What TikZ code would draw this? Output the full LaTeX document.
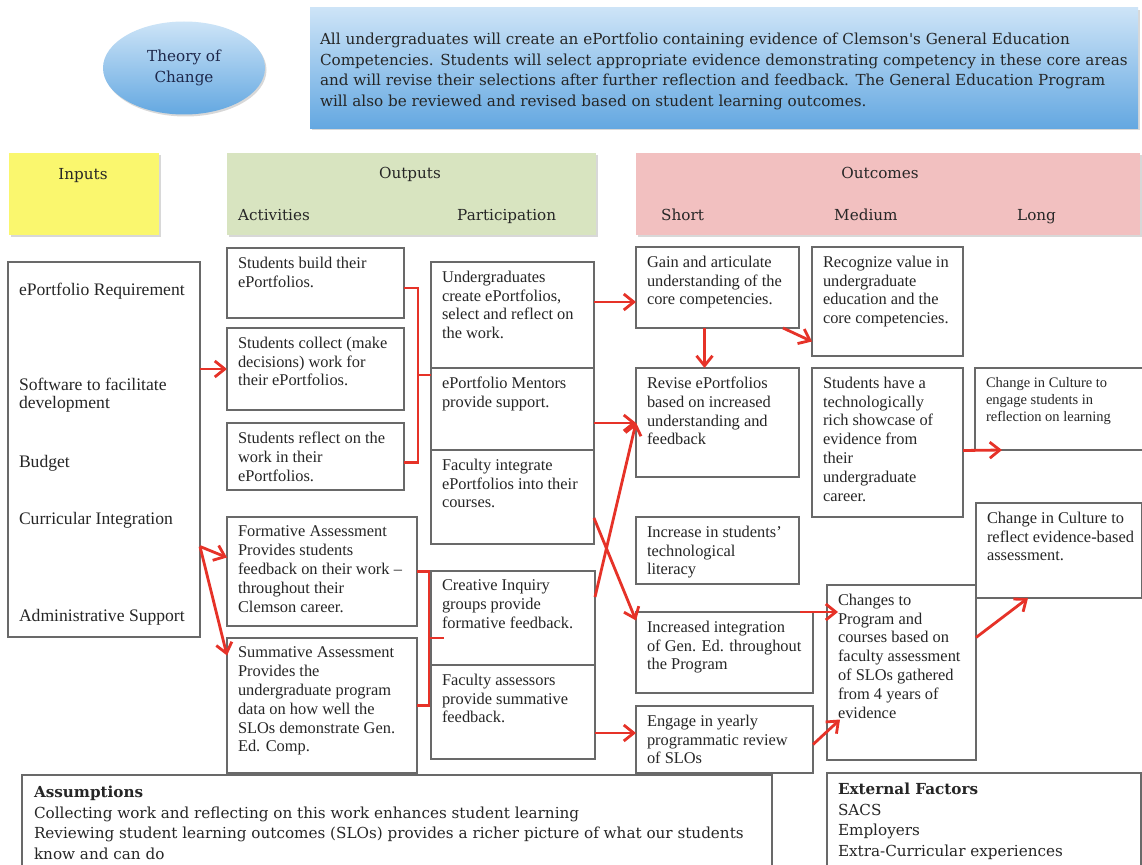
\documentclass[tikz,border=0pt]{standalone}
\usepackage{fontspec}
\setmainfont{Liberation Serif}
\newfontfamily\camfont{DejaVu Serif}
\usepackage{tikz}
\usetikzlibrary{arrows.meta,shapes,shadows}

\definecolor{boxgray}{RGB}{105,105,105}
\definecolor{arrred}{RGB}{230,50,40}
\definecolor{inyellow}{RGB}{250,247,110}
\definecolor{outgreen}{RGB}{216,228,192}
\definecolor{outcpink}{RGB}{242,192,192}
\definecolor{bluehi}{RGB}{205,228,247}
\definecolor{bluelo}{RGB}{100,168,225}
\definecolor{navytext}{RGB}{30,40,75}

\newcommand{\boxfont}{\fontsize{16.4}{18.8}\selectfont}
\newcommand{\smallboxfont}{\fontsize{14.5}{17}\selectfont}
\newcommand{\inputfont}{\fontsize{17.6}{18.8}\selectfont}
\newcommand{\headfont}{\camfont\fontsize{15.2}{20.5}\selectfont}
\newcommand{\cell}[3]{\parbox[c][#2pt][t]{#1pt}{\raggedright\leftskip=11pt\vspace*{9pt}#3}}

\begin{document}
\begin{tikzpicture}[x=1pt,y=-1pt]
  \tikzstyle{box}=[draw=boxgray, line width=1.2pt, inner sep=0pt, outer sep=0pt, anchor=north west, font=\boxfont, text=black!85]
  \tikzstyle{head}=[box, draw=none, drop shadow={shadow xshift=1.5pt, shadow yshift=-2pt, opacity=.3}]
  \tikzstyle{htxt}=[font=\headfont, inner sep=0pt, anchor=base, text=black!85]
  \tikzstyle{arr}=[draw=arrred, line width=2.8pt, -{Straight Barb[length=10pt,width=16pt]}]
  \tikzstyle{brk}=[draw=arrred, line width=2.6pt]

  \useasboundingbox (0,0) rectangle (1142,864);
  \clip (0,0) rectangle (1142,864);
  \fill[white] (0,0) rectangle (1142,864);

  % header
  \node[ellipse, minimum width=162pt, minimum height=93pt, top color=bluehi, bottom color=bluelo,
        drop shadow={shadow xshift=1.5pt, shadow yshift=-2pt, opacity=.3},
        font=\headfont, text=navytext, align=center, inner sep=0pt] (theory) at (184,68) {Theory of\\Change};
  \node[head, top color=bluehi, bottom color=bluelo, font=\headfont] (vision) at (310,8)
    {\parbox[c][120pt][t]{828pt}{\leftskip=10pt\vspace*{25pt}%
     All undergraduates will create an ePortfolio containing evidence of Clemson's General Education\\
     Competencies. Students will select appropriate evidence demonstrating competency in these core areas\\
     and will revise their selections after further reflection and feedback. The General Education Program\\
     will also be reviewed and revised based on student learning outcomes.}};

  \node[head, fill=inyellow, minimum width=150pt, minimum height=82pt] (inputshead) at (9,153) {};
  \node[head, fill=outgreen, minimum width=369pt, minimum height=82pt] (outputshead) at (227,153) {};
  \node[head, fill=outcpink, minimum width=504pt, minimum height=82pt] (outcomeshead) at (636,153) {};
  \node[htxt] (inputslbl) at (83,179) {Inputs};
  \node[htxt] (outputslbl) at (410,178) {Outputs};
  \node[htxt, anchor=base west] (actlbl) at (238,220) {Activities};
  \node[htxt, anchor=base west] (partlbl) at (457,220) {Participation};
  \node[htxt] (outcomeslbl) at (880,178) {Outcomes};
  \node[htxt, anchor=base west] (shortlbl) at (661,220) {Short};
  \node[htxt, anchor=base west] (mediumlbl) at (834,220) {Medium};
  \node[htxt, anchor=base west] (longlbl) at (1017,220) {Long};

  % inputs
  \node[box, font=\inputfont] (resources) at (8,262) {\cell{192}{375}{\vspace*{12pt}ePortfolio Requirement\\[76pt]Software to facilitate\\development\\[40pt]Budget\\[38pt]Curricular Integration\\[78pt]Administrative Support}};

  % activities
  \node[box] (build) at (227,248) {\cell{177}{70}{Students build their\\ePortfolios.}};
  \node[box] (collect) at (227,328) {\cell{177}{82}{Students collect (make\\decisions) work for\\their ePortfolios.}};
  \node[box] (reflect) at (227,423) {\cell{177}{67}{Students reflect on the\\work in their\\ePortfolios.}};
  \node[box] (formative) at (227,517) {\cell{190}{109}{Formative Assessment\\Provides students\\feedback on their work --\\throughout their\\Clemson career.}};
  \node[box] (summative) at (227,638) {\cell{190}{135}{Summative Assessment\\Provides the\\undergraduate program\\data on how well the\\SLOs demonstrate Gen.\\Ed. Comp.}};

  % participation
  \node[box] (undergrads) at (431,262) {\cell{163}{106}{Undergraduates\\create ePortfolios,\\select and reflect on\\the work.}};
  \node[box] (mentors) at (431,368) {\cell{163}{82}{ePortfolio Mentors\\provide support.}};
  \node[box] (faculty) at (431,450) {\cell{163}{94}{Faculty integrate\\ePortfolios into their\\courses.}};
  \node[box] (inquiry) at (431,571) {\cell{164}{94}{Creative Inquiry\\groups provide\\formative feedback.}};
  \node[box] (assessors) at (431,665) {\cell{164}{94}{Faculty assessors\\provide summative\\feedback.}};

  % short
  \node[box] (gain) at (636,247) {\cell{163}{81}{Gain and articulate\\understanding of the\\core competencies.}};
  \node[box] (revise) at (636,368) {\cell{163}{109}{Revise ePortfolios\\based on increased\\understanding and\\feedback}};
  \node[box] (literacy) at (636,517) {\cell{163}{67}{Increase in students'\\technological\\literacy}};
  \node[box] (integration) at (636,612) {\cell{177}{81}{Increased integration\\of Gen. Ed. throughout\\the Program}};
  \node[box] (review) at (636,706) {\cell{177}{67}{Engage in yearly\\programmatic review\\of SLOs}};

  % medium
  \node[box] (recognize) at (812,247) {\cell{151}{109}{Recognize value in\\undergraduate\\education and the\\core competencies.}};
  \node[box] (showcase) at (812,368) {\cell{151}{149}{Students have a\\technologically\\rich showcase of\\evidence from\\their\\undergraduate\\career.}};
  \node[box] (changes) at (827,585) {\cell{149}{175}{Changes to\\Program and\\courses based on\\faculty assessment\\of SLOs gathered\\from 4 years of\\evidence}};

  % long
  \node[box, font=\smallboxfont] (culture) at (975,368) {\cell{168}{82}{Change in Culture to\\engage students in\\reflection on learning}};
  \node[box] (evidence) at (976,503) {\cell{166}{95}{Change in Culture to\\reflect evidence-based\\assessment.}};

  % assumptions and external factors
  \node[box, font=\headfont] (assumptions) at (22,775) {\parbox[c][100pt][t]{750pt}{\leftskip=12pt\vspace*{11pt}\textbf{Assumptions}\\Collecting work and reflecting on this work enhances student learning\\Reviewing student learning outcomes (SLOs) provides a richer picture of what our students\\know and can do}};
  \node[box, font=\headfont] (external) at (827,773) {\parbox[c][100pt][t]{314pt}{\leftskip=11pt\vspace*{10pt}\textbf{External Factors}\\SACS\\Employers\\Extra-Curricular experiences}};

  % brackets
  \draw[brk] ([yshift=-5pt]build.east) -| ([xshift=14pt,yshift=-6pt]reflect.east) -- ([yshift=-6pt]reflect.east);
  \draw[brk] ([shift={(-13pt,-7pt)}]mentors.north west) -- ([yshift=-7pt]mentors.north west);
  \draw[brk] (formative.east) -| ([xshift=12pt]summative.east) -- (summative.east);
  \draw[brk] ([shift={(-2pt,-20pt)}]inquiry.west) -- ([shift={(13pt,-20pt)}]inquiry.west);

  % arrows
  \coordinate (fork) at ([yshift=-97pt]resources.east);
  \draw[arr] (resources.east |- collect.west) -- (collect.west);
  \draw[arr] (fork) -- ([yshift=14pt]formative.west);
  \draw[arr] (fork) -- ([yshift=50pt]summative.west);
  \draw[arr] ([yshift=13pt]undergrads.east) -- ([yshift=13pt]undergrads.east -| gain.west);
  \draw[arr] ([xshift=-13pt]gain.south) -- ([xshift=-13pt]gain.south |- revise.north);
  \draw[arr] ([xshift=-16pt]gain.south east) -- ([yshift=-40pt]recognize.west);
  \draw[arr] ([yshift=-14pt]mentors.east) -- ([yshift=-14pt]mentors.east -| revise.west);
  \draw[arr] ([yshift=21pt]inquiry.east) -- (revise.west);
  \draw[arr] ([yshift=-21pt]faculty.east) -- ([yshift=32pt]integration.west);
  \draw[arr] ([yshift=-21pt]assessors.east) -- ([yshift=-21pt]assessors.east -| review.west);
  \draw[arr] ([xshift=-13pt]integration.north east) -- ([xshift=11pt]changes.west |- integration.north);
  \draw[arr] ([yshift=-5pt]review.east) -- ([shift={(13pt,-47pt)}]changes.west);
  \draw[arr] ([yshift=35pt]changes.east) -- ([xshift=-31pt]evidence.south);
  \draw[arr] ([yshift=-8pt]showcase.east) -- ([xshift=27pt]culture.south west);
\end{tikzpicture}
\end{document}
